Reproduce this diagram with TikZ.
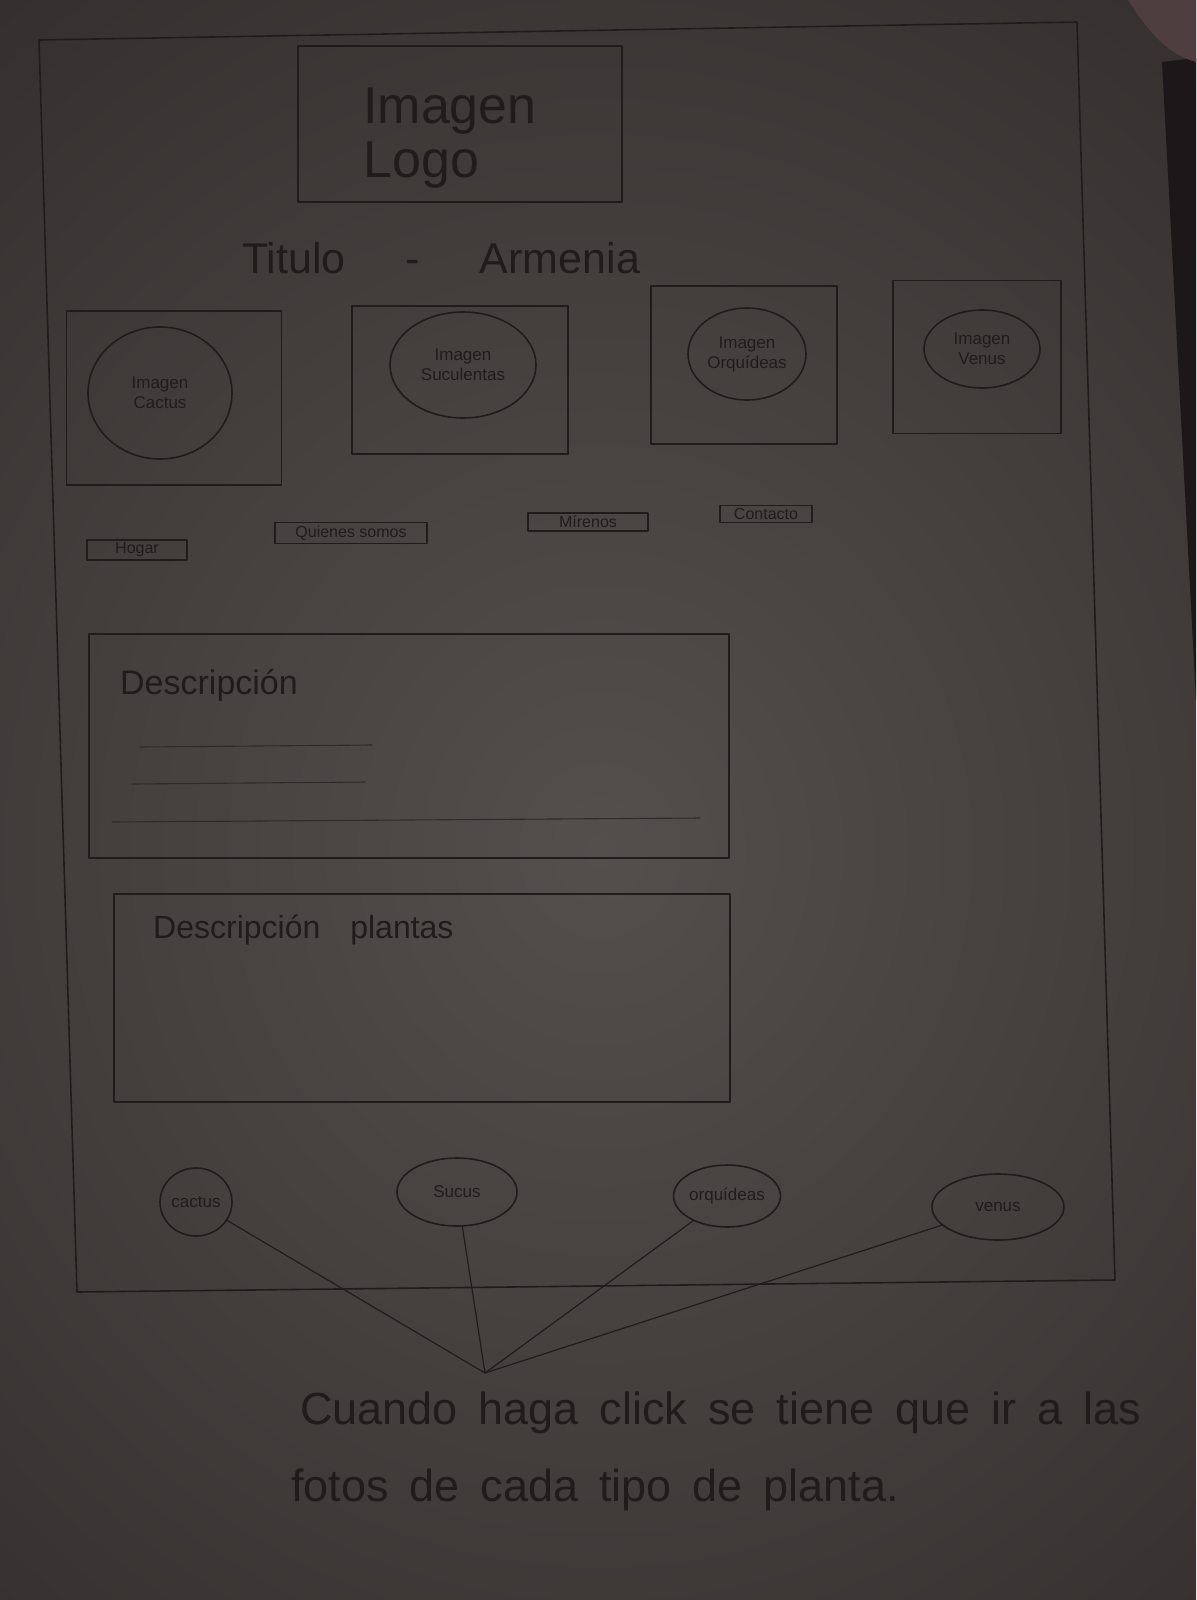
\documentclass[tikz,border=0pt]{standalone}
\usepackage{fontspec}
\setmainfont{Liberation Sans}
\usetikzlibrary{shapes.geometric}

\newcommand\notegaps{\spaceskip=21pt\relax}
\newcommand\headgaps{\spaceskip=30pt\relax}

\definecolor{paperdark}{RGB}{50,43,43}
\definecolor{paperlight}{RGB}{84,79,77}
\definecolor{inkc}{RGB}{33,28,28}
\definecolor{tablec}{RGB}{28,23,24}
\definecolor{blobc}{RGB}{78,62,64}

\tikzset{
  ink/.style={draw=inkc, line width=1.6pt, line cap=round, line join=round},
  faint/.style={draw=inkc!70!paperlight, line width=1.1pt, line cap=round},
  pane/.style={ink},
  bubble/.style={ink, ellipse, inner sep=0pt, align=center, text=inkc,
                 font=\fontsize{17}{20}\selectfont},
  navitem/.style={ink, rectangle, inner xsep=7pt, inner ysep=3pt, text=inkc,
                  font=\fontsize{16}{18}\selectfont},
  handtext/.style={text=inkc, inner sep=0pt},
  notetext/.style={handtext, anchor=west, font={\fontsize{45}{52}\selectfont\notegaps}},
}

\begin{document}
\begin{tikzpicture}[x=1pt, y=-1pt]
  \useasboundingbox (0,0) rectangle (1196,1600);

  % sheet of paper, dim light
  \begin{scope}
    \clip (0,0) rectangle (1196,1600);
    \shade[inner color=paperlight, outer color=paperdark] (-500,-350) rectangle (1700,2050);
    % table visible past the right edge, object in the corner
    \fill[tablec] (1162,62) -- (1196,58) -- (1196,700) -- cycle;
    \fill[blobc] (1128,0) .. controls (1150,35) and (1170,55) .. (1196,62) -- (1196,0) -- cycle;
  \end{scope}

  % page frame
  \draw[ink] (39,40) -- (1077,22) -- (1115,1280) -- (77,1292) -- cycle;

  % logo
  \node[pane, minimum width=324pt, minimum height=156pt] (logo) at (460,124) {};
  \node[handtext, font=\fontsize{52}{60}\selectfont, align=left] (logotext) at (450,138)
    {Imagen\\[-6pt]Logo};

  % site title
  \node[handtext, font=\fontsize{43}{48}\selectfont] (title) at (441,258)
    {Titulo\hspace{60pt}-\hspace{60pt}Armenia};

  % category tiles
  \node[pane, minimum width=215pt, minimum height=174pt] (tile1) at (174,398) {};
  \node[pane, minimum width=216pt, minimum height=148pt] (tile2) at (460,380) {};
  \node[pane, minimum width=186pt, minimum height=158pt] (tile3) at (744,365) {};
  \node[pane, minimum width=168pt, minimum height=153pt] (tile4) at (977,357) {};

  \node[bubble, minimum width=144pt, minimum height=132pt] (img1) at (160,393) {Imagen\\Cactus};
  \node[bubble, minimum width=146pt, minimum height=106pt] (img2) at (463,365) {Imagen\\Suculentas};
  \node[bubble, minimum width=118pt, minimum height=92pt]  (img3) at (747,354) {Imagen\\Orquídeas};
  \node[bubble, minimum width=116pt, minimum height=78pt]  (img4) at (982,349) {Imagen\\Venus};

  % navigation
  \node[navitem, minimum width=100pt] (nav1) at (137,550) {Hogar};
  \node[navitem, minimum width=152pt] (nav2) at (351,533) {Quienes somos};
  \node[navitem, minimum width=120pt] (nav3) at (588,522) {Mírenos};
  \node[navitem, minimum width=92pt]  (nav4) at (766,514) {Contacto};

  % description block
  \node[pane, minimum width=640pt, minimum height=224pt] (desc) at (409,746) {};
  \node[handtext, anchor=west, font=\fontsize{34}{38}\selectfont] (desctext) at (120,686) {Descripción};
  \draw[faint] (140,747) -- (372,745);
  \draw[faint] (132,784) -- (365,782);
  \draw[faint] (112,822) -- (700,818);

  % plant description block
  \node[pane, minimum width=616pt, minimum height=208pt] (plants) at (422,998) {};
  \node[handtext, anchor=west, font={\fontsize{32}{36}\selectfont\headgaps}]
    (plantstext) at (153,930) {Descripción plantas};

  % plant links
  \node[bubble, minimum width=72pt,  minimum height=68pt] (cactus) at (196,1202) {cactus};
  \node[bubble, minimum width=120pt, minimum height=68pt] (sucus)  at (457,1192) {Sucus};
  \node[bubble, minimum width=98pt,  minimum height=62pt] (orqui)  at (727,1196) {orquídeas};
  \node[bubble, minimum width=132pt, minimum height=66pt] (venus)  at (998,1207) {venus};

  \coordinate (hub) at (485,1373);
  \draw[ink, line width=1.2pt] (cactus) -- (hub);
  \draw[ink, line width=1.2pt] (sucus) -- (hub);
  \draw[ink, line width=1.2pt] (orqui) -- (hub);
  \draw[ink, line width=1.2pt] (venus) -- (hub);

  % note
  \node[notetext] (note1) at (300,1413) {Cuando haga click se tiene que ir a las};
  \node[notetext] (note2) at (291,1490) {fotos de cada tipo de planta.};
\end{tikzpicture}
\end{document}
